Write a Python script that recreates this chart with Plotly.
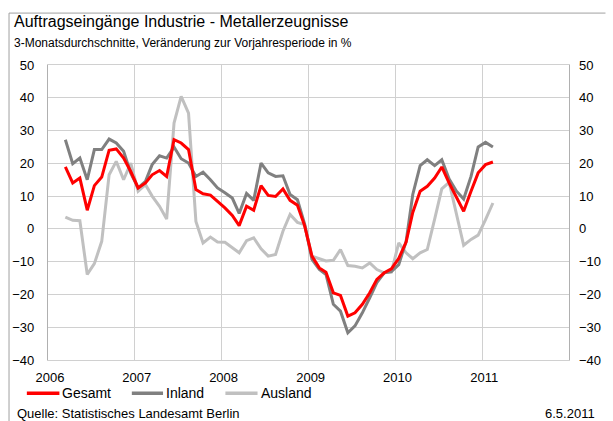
import plotly.graph_objects as go
import pandas as pd

# Monthly 3-month averages, March 2006 .. February 2011
months = pd.date_range("2006-03-01", periods=60, freq="MS") + pd.Timedelta(days=14)

gesamt = [18.9, 14.0, 15.5, 5.7, 13.2, 15.8, 24.0, 24.4, 21.6, 17.5,
          12.5, 14.0, 16.5, 17.8, 16.0, 27.2, 26.2, 24.2, 12.0, 10.7,
          10.3, 8.4, 6.4, 4.1, 1.0, 6.9, 5.7, 13.2, 10.2, 9.9,
          12.2, 8.7, 7.2, 1.0, -8.3, -11.9, -13.2, -19.5, -20.3, -26.6,
          -25.6, -23.0, -19.5, -15.4, -13.4, -12.2, -9.0, -4.0, 5.0, 11.5,
          13.0, 15.5, 18.9, 14.0, 9.5, 5.4, 11.5, 17.1, 19.6, 20.4]

inland = [27.2, 19.9, 21.6, 15.0, 24.2, 24.2, 27.4, 26.2, 23.7, 17.0,
          12.5, 14.5, 19.6, 22.3, 21.6, 25.0, 21.4, 20.1, 16.0, 17.3,
          15.0, 12.5, 11.0, 9.4, 4.7, 10.8, 8.7, 20.1, 17.1, 16.0,
          16.2, 10.5, 8.9, 1.5, -9.3, -12.4, -13.9, -23.0, -25.1, -31.7,
          -29.6, -25.6, -21.0, -16.4, -13.4, -13.0, -10.9, -3.8, 10.5, 19.3,
          21.1, 19.3, 21.1, 15.2, 11.5, 9.1, 16.0, 25.0, 26.4, 25.0]

ausland = [3.6, 2.6, 2.5, -13.9, -10.6, -3.8, 16.5, 20.6, 15.0, 20.1,
           11.5, 13.5, 10.0, 6.9, 3.0, 32.3, 40.4, 35.3, 2.3, -4.3,
           -2.5, -4.0, -4.1, -5.8, -7.3, -3.6, -2.7, -6.1, -8.3, -7.8,
           -0.7, 4.4, 2.0, 1.3, -8.3, -9.1, -9.8, -9.6, -6.3, -11.2,
           -11.4, -11.9, -10.4, -12.4, -13.4, -13.2, -4.3, -7.3, -9.1, -7.3,
           -6.3, 3.0, 12.2, 14.2, 4.5, -5.0, -3.2, -1.9, 2.8, 7.9]

series_names = ["Gesamt", "Inland", "Ausland"]
series_colors = ["#FF0000", "#808080", "#C0C0C0"]

year_ticks = ["2006-01-01", "2007-01-01", "2008-01-01", "2009-01-01", "2010-01-01", "2011-01-01", "2012-01-01"]
year_labels = ["2006", "2007", "2008", "2009", "2010", "2011", ""]
y_ticks = [50, 40, 30, 20, 10, 0, -10, -20, -30, -40]

FONT = "Liberation Sans, Arial, sans-serif"
GRID = "#D0D0D0"

values = {"Gesamt": gesamt, "Inland": inland, "Ausland": ausland}
colors = dict(zip(series_names, series_colors))

fig = go.Figure()
for name in reversed(series_names):  # Gesamt drawn on top
    fig.add_trace(go.Scatter(x=months, y=values[name], name=name, mode="lines",
                             line=dict(color=colors[name], width=3), showlegend=False))
fig.add_trace(go.Scatter(x=[months[0]], y=[None], yaxis="y2", showlegend=False,
                         hoverinfo="skip", mode="lines"))

fig.update_layout(
    width=613, height=421,
    margin=dict(l=45, r=33.5, t=65, b=61),
    paper_bgcolor="white", plot_bgcolor="white",
    font=dict(family=FONT, size=12, color="#000000"),
    xaxis=dict(range=["2006-01-01", "2012-01-01"], tickvals=year_ticks, ticktext=year_labels,
               showgrid=True, gridcolor=GRID, gridwidth=1.3,
               showline=True, linecolor=GRID, linewidth=1.3, mirror=True,
               ticks="", ticklabelstandoff=5, ticklabelshift=2, zeroline=False,
               tickfont=dict(size=13)),
    yaxis=dict(range=[-40, 50], tickvals=y_ticks, showgrid=True, gridcolor=GRID, gridwidth=1.3,
               showline=True, linecolor="#B0B0B0", linewidth=1.3, mirror=True,
               zeroline=False, ticks="", ticklabelstandoff=10, tickfont=dict(size=13)),
    yaxis2=dict(range=[-40, 50], tickvals=y_ticks, overlaying="y", side="right",
                showgrid=False, zeroline=False, showline=False, ticks="",
                ticklabelstandoff=9, tickfont=dict(size=13)),
    showlegend=False,
)

# legend (drawn manually to match the original layout)
leg_y = -0.1129
leg_pos = [(-0.0406, 0.0219, 0.0230), (0.1609, 0.2208, 0.2226), (0.3405, 0.4022, 0.4041)]
for name, (x0, x1, xt) in zip(series_names, leg_pos):
    fig.add_shape(type="line", xref="paper", yref="paper", x0=x0, x1=x1, y0=leg_y, y1=leg_y,
                  line=dict(color=colors[name], width=3.5))
    fig.add_annotation(text=name, xref="paper", yref="paper", x=xt, y=leg_y,
                       xanchor="left", yanchor="middle", showarrow=False,
                       font=dict(size=14))

fig.add_annotation(text="Auftragseingänge Industrie - Metallerzeugnisse", xref="paper", yref="paper",
                   x=-0.0692, y=1.1458, xanchor="left", yanchor="middle", showarrow=False,
                   font=dict(size=16))
fig.add_annotation(text="3-Monatsdurchschnitte, Veränderung zur Vorjahresperiode in %", xref="paper", yref="paper",
                   x=-0.0692, y=1.0746, xanchor="left", yanchor="middle", showarrow=False,
                   font=dict(size=12))
fig.add_annotation(text="Quelle: Statistisches Landesamt Berlin", xref="paper", yref="paper",
                   x=-0.0636, y=-0.1797, xanchor="left", yanchor="middle", showarrow=False,
                   font=dict(size=13))
fig.add_annotation(text="6.5.2011", xref="paper", yref="paper",
                   x=1.0533, y=-0.1797, xanchor="right", yanchor="middle", showarrow=False,
                   font=dict(size=13))

# outer frame (top and left edges)
fig.add_shape(type="line", xref="paper", yref="paper", x0=-0.0748, x1=1.07, y0=1.176, y1=1.176,
              line=dict(color="#A0A0A0", width=1))
fig.add_shape(type="line", xref="paper", yref="paper", x0=-0.0748, x1=-0.0748, y0=1.176, y1=-0.21,
              line=dict(color="#A0A0A0", width=1))

fig.write_html("out.html", config={"displayModeBar": False},
               post_script="document.body.style.margin='0';document.body.style.overflow='hidden';")
